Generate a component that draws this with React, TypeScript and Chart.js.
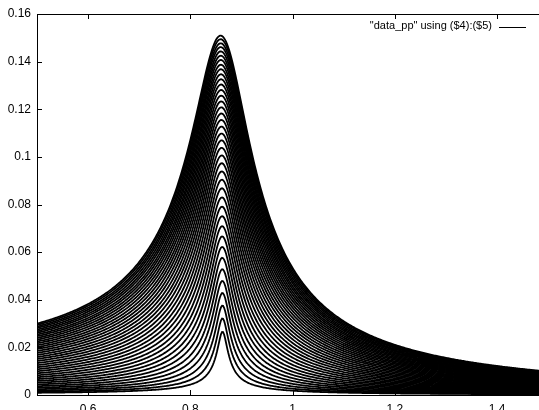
import { useEffect, useRef } from "react";
import { Chart, registerables } from "chart.js";

Chart.register(...registerables);

// ---- data ----
const seriesLabel = '"data_pp" using ($4):($5)';
const xTickValues = [0.6, 0.8, 1, 1.2, 1.4];
const yTickValues = [0, 0.02, 0.04, 0.06, 0.08, 0.1, 0.12, 0.14, 0.16];
const xMin = 0.5;
const xMax = 1.482;
const yMin = 0;
const yMax = 0.16;
// common resonance position of the family of curves
const resonanceX = 0.863;
// peak height of every curve (bottom to top)
const peakHeights = [
  0.0265, 0.0321, 0.0375, 0.0428, 0.0479, 0.0528, 0.0576, 0.0622, 0.0666, 0.0709,
  0.0751, 0.0791, 0.083, 0.0868, 0.0904, 0.0939, 0.0973, 0.1006, 0.1038, 0.1069,
  0.1098, 0.1127, 0.1155, 0.1182, 0.1208, 0.1233, 0.1257, 0.1281, 0.1304, 0.1326,
  0.1347, 0.1368, 0.1387, 0.1407, 0.1425, 0.1443, 0.1461, 0.1477, 0.1494, 0.1509,
];
// width (damping) of every curve, same order
const dampings = [
  0.0202, 0.0244, 0.0286, 0.0326, 0.0365, 0.0402, 0.0439, 0.0474, 0.0507, 0.054,
  0.0572, 0.0602, 0.0632, 0.0661, 0.0688, 0.0715, 0.0741, 0.0766, 0.0791, 0.0814,
  0.0836, 0.0858, 0.088, 0.09, 0.092, 0.0939, 0.0957, 0.0976, 0.0993, 0.101,
  0.1026, 0.1042, 0.1056, 0.1072, 0.1085, 0.1099, 0.1113, 0.1125, 0.1138, 0.1149,
];
// sampling step of the x column ($4)
const xStep = 0.002;

const FONT = "'Liberation Sans', Arial, Helvetica, sans-serif";

function buildDatasets() {
  const xs: number[] = [];
  for (let x = xMin; x <= xMax + 1e-9; x += xStep) xs.push(+x.toFixed(4));
  const x0sq = resonanceX * resonanceX;
  return peakHeights.map((h, k) => {
    const g = dampings[k];
    const amp = xs.map((x) => 1 / Math.sqrt((x0sq - x * x) ** 2 + g * g * x * x));
    const m = Math.max(...amp);
    return {
      label: seriesLabel,
      data: xs.map((x, i) => ({ x, y: (h * amp[i]) / m })),
      borderColor: "#000",
      borderWidth: 1.8,
      pointRadius: 0,
      tension: 0,
      fill: false,
    };
  });
}

const framePlugin = {
  id: "gnuplotFrame",
  afterDraw(chart: any) {
    const { ctx, chartArea } = chart;
    const { left, right, top, bottom } = chartArea;
    const xs = chart.scales.x;
    const ys = chart.scales.y;
    ctx.save();
    ctx.strokeStyle = "#000";
    ctx.lineWidth = 1;
    ctx.beginPath();
    // frame
    ctx.moveTo(left + 0.5, bottom + 0.5);
    ctx.lineTo(left + 0.5, top + 0.5);
    ctx.lineTo(right, top + 0.5);
    ctx.moveTo(left + 0.5, bottom + 0.5);
    ctx.lineTo(right, bottom + 0.5);
    // inward ticks
    xTickValues.forEach((v) => {
      const px = Math.round(xs.getPixelForValue(v)) + 0.5;
      ctx.moveTo(px, bottom);
      ctx.lineTo(px, bottom - 5);
      ctx.moveTo(px, top);
      ctx.lineTo(px, top + 5);
    });
    yTickValues.forEach((v) => {
      const py = Math.round(ys.getPixelForValue(v)) + 0.5;
      ctx.moveTo(left, py);
      ctx.lineTo(left + 5, py);
    });
    ctx.stroke();
    // key
    ctx.fillStyle = "#000";
    ctx.font = `11px ${FONT}`;
    ctx.textAlign = "right";
    ctx.textBaseline = "middle";
    ctx.fillText(seriesLabel, 492, 26);
    ctx.beginPath();
    ctx.moveTo(499, 27.5);
    ctx.lineTo(526, 27.5);
    ctx.stroke();
    ctx.restore();
  },
};

export default function App() {
  const ref = useRef<HTMLCanvasElement | null>(null);
  useEffect(() => {
    if (!ref.current) return;
    const chart = new Chart(ref.current, {
      type: "line",
      data: { datasets: buildDatasets() as any },
      options: {
        responsive: false,
        animation: false,
        devicePixelRatio: 1,
        normalized: true,
        layout: { padding: { top: 14, right: 0, left: 0, bottom: 0 } },
        plugins: { legend: { display: false }, tooltip: { enabled: false } },
        elements: { point: { radius: 0 } },
        scales: {
          x: {
            type: "linear",
            min: xMin,
            max: xMax,
            afterBuildTicks: (s: any) => {
              s.ticks = xTickValues.map((v) => ({ value: v }));
            },
            afterFit: (s: any) => {
              s.height = 15;
            },
            grid: { display: false, drawTicks: false },
            border: { display: false },
            ticks: {
              color: "#000",
              font: { family: FONT, size: 12 },
              padding: 7,
              maxRotation: 0,
              autoSkip: false,
              callback: (v: any) => String(v),
            },
          },
          y: {
            type: "linear",
            min: yMin,
            max: yMax,
            afterBuildTicks: (s: any) => {
              s.ticks = yTickValues.map((v) => ({ value: v }));
            },
            afterFit: (s: any) => {
              s.width = 37;
            },
            grid: { display: false, drawTicks: false },
            border: { display: false },
            ticks: {
              color: "#000",
              font: { family: FONT, size: 12 },
              padding: 6,
              autoSkip: false,
              callback: (v: any) => String(v),
            },
          },
        },
      },
      plugins: [framePlugin],
    });
    return () => chart.destroy();
  }, []);
  return (
    <div style={{ position: "fixed", left: 0, top: 0, width: 539, height: 410, background: "#fff" }}>
      <canvas ref={ref} width={539} height={410} style={{ width: 539, height: 410, display: "block" }} />
    </div>
  );
}
